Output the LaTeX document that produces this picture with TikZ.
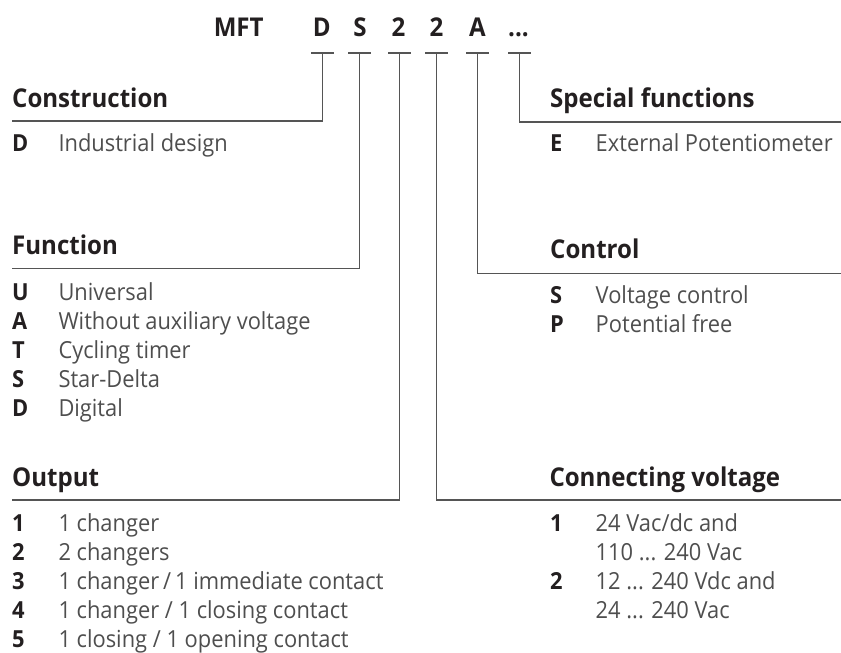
\documentclass[tikz,border=0pt]{standalone}
\usepackage{fontspec}
\setmainfont{Open Sans}[FakeStretch=0.93]
\newlength\mfttmpw
\definecolor{titlec}{RGB}{35,31,32}
\definecolor{descc}{RGB}{78,78,78}
\definecolor{linec}{RGB}{85,85,85}
\begin{document}
\settowidth\mfttmpw{\fontsize{10}{12}\selectfont\bfseries Connecting voltage}%
\pgfmathsetmacro\tsz{10*230.7/\mfttmpw}%
\settowidth\mfttmpw{\fontsize{10}{12}\selectfont External Potentiometer}%
\pgfmathsetmacro\bsz{10*237/\mfttmpw}%
\begin{tikzpicture}[x=1pt,y=-1pt]
\tikzset{
  ttl/.style={font=\fontsize{\tsz}{\tsz}\selectfont\bfseries, text=titlec, anchor=base west, inner sep=0pt},
  hdr/.style={font=\fontsize{\tsz}{\tsz}\selectfont\bfseries, text=titlec, anchor=base, inner sep=0pt},
  key/.style={font=\fontsize{\bsz}{\bsz}\selectfont\bfseries, text=titlec, anchor=base west, inner sep=0pt},
  desc/.style={font=\fontsize{\bsz}{\bsz}\selectfont, text=descc, anchor=base west, inner sep=0pt},
  conn/.style={draw=linec, line width=1.4pt},
  tick/.style={draw=linec, line width=1.4pt},
}
\useasboundingbox (0,0) rectangle (841,653);

% header
\node[hdr] (hMFT) at (238.7,36) {MFT};
\node[hdr] (hD) at (321.7,36) {D};
\node[hdr] (hS) at (360,36) {S};
\node[hdr] (h2a) at (398.5,36) {2};
\node[hdr] (h2b) at (436.5,36) {2};
\node[hdr] (hA) at (477.5,36) {A};
\node[hdr] (hX) at (518.5,36) {...};

% tick coordinates
\coordinate (tD) at (322.7,53);
\coordinate (tS) at (359.5,53);
\coordinate (t2a) at (399.3,53);
\coordinate (t2b) at (436.3,53);
\coordinate (tA) at (477.7,53);
\coordinate (tX) at (519.4,53);
\foreach \t in {tD,tS,t2a,t2b,tA,tX}{
  \draw[tick] ([xshift=-11.3pt]\t) -- ([xshift=11.3pt]\t);
}

% ends of the underlines
\coordinate (eC) at (12,121);
\coordinate (eSF) at (841,122);
\coordinate (eF) at (12,268.7);
\coordinate (eCt) at (841,273.3);
\coordinate (eO) at (12,500);
\coordinate (eV) at (841,500);

\draw[conn] (tD) |- (eC);
\draw[conn] (tX) |- (eSF);
\draw[conn] (tS) |- (eF);
\draw[conn] (tA) |- (eCt);
\draw[conn] (t2a) |- (eO);
\draw[conn] (t2b) |- (eV);

% Construction
\node[ttl] (tCon) at (12,107) {Construction};
\node[key] (kCon) at (12,151) {D};
\node[desc] (dCon) at (58.3,151) {Industrial design};

% Special functions
\node[ttl] (tSpe) at (550,107) {Special functions};
\node[key] (kSpe) at (550,151) {E};
\node[desc] (dSpe) at (595.5,151) {External Potentiometer};

% Function
\node[ttl] (tFun) at (12,254) {Function};
\node[key] (kF1) at (12,300) {U};
\node[desc] (dF1) at (58.3,300) {Universal};
\node[key] (kF2) at (12,329.2) {A};
\node[desc] (dF2) at (58.3,329.2) {Without auxiliary voltage};
\node[key] (kF3) at (12,358.4) {T};
\node[desc] (dF3) at (58.3,358.4) {Cycling timer};
\node[key] (kF4) at (12,387.6) {S};
\node[desc] (dF4) at (58.3,387.6) {Star-Delta};
\node[key] (kF5) at (12,416.8) {D};
\node[desc] (dF5) at (58.3,416.8) {Digital};

% Control
\node[ttl] (tCtl) at (550,258) {Control};
\node[key] (kC1) at (550,303.3) {S};
\node[desc] (dC1) at (595.5,303.3) {Voltage control};
\node[key] (kC2) at (550,332.5) {P};
\node[desc] (dC2) at (595.5,332.5) {Potential free};

% Output
\node[ttl] (tOut) at (12,486.7) {Output};
\node[key] (kO1) at (12,531.5) {1};
\node[desc] (dO1) at (58.3,531.5) {1 changer};
\node[key] (kO2) at (12,560.5) {2};
\node[desc] (dO2) at (58.3,560.5) {2 changers};
\node[key] (kO3) at (12,589.5) {3};
\node[desc] (dO3) at (58.3,589.5) {1 changer\,/\,1 immediate contact};
\node[key] (kO4) at (12,618.5) {4};
\node[desc] (dO4) at (58.3,618.5) {1 changer / 1 closing contact};
\node[key] (kO5) at (12,647.5) {5};
\node[desc] (dO5) at (58.3,647.5) {1 closing / 1 opening contact};

% Connecting voltage
\node[ttl] (tVol) at (549.3,486) {Connecting voltage};
\node[key] (kV1) at (550,531.5) {1};
\node[desc] (dV1) at (595.5,531.5) {24 Vac/dc and};
\node[desc] (dV1b) at (595.5,560.5) {110 ... 240 Vac};
\node[key] (kV2) at (550,589.5) {2};
\node[desc] (dV2) at (595.5,589.5) {12 ... 240 Vdc and};
\node[desc] (dV2b) at (595.5,618.5) {24 ... 240 Vac};
\end{tikzpicture}
\end{document}
